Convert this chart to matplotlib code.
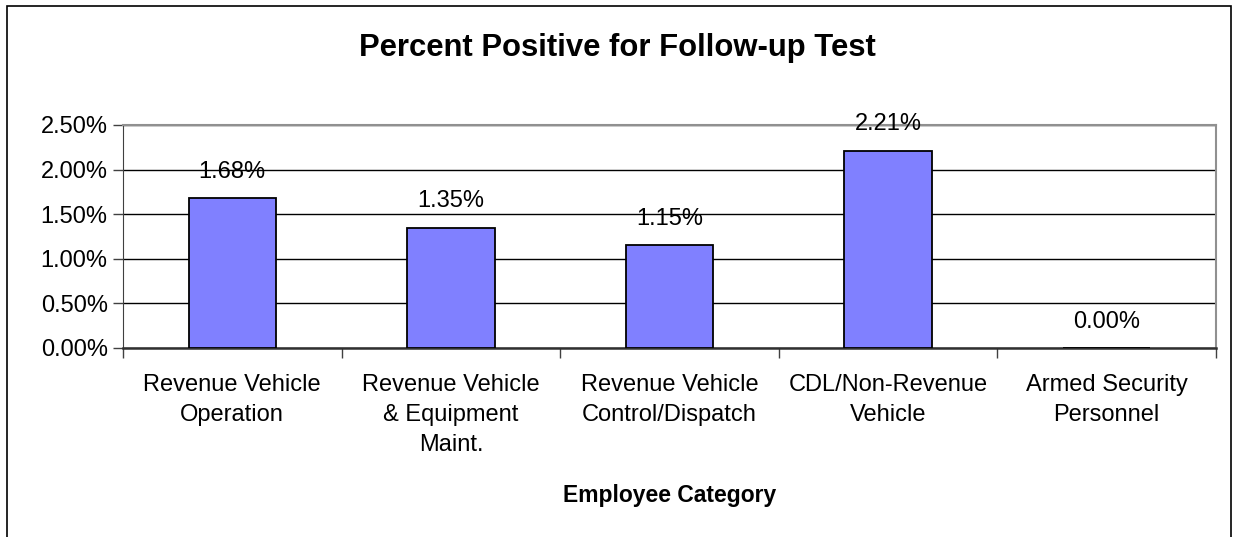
#!/usr/bin/env python3
"""Percent Positive for Follow-up Test, by employee category."""

import matplotlib.pyplot as plt
from matplotlib.patches import Rectangle
from matplotlib.ticker import FuncFormatter
import numpy as np

plt.rcParams['font.family'] = ['Liberation Sans', 'DejaVu Sans']

categories = ['Revenue Vehicle\nOperation',
              'Revenue Vehicle\n& Equipment\nMaint.',
              'Revenue Vehicle\nControl/Dispatch',
              'CDL/Non-Revenue\nVehicle',
              'Armed Security\nPersonnel']
percent_positive = [1.68, 1.35, 1.15, 2.21, 0.00]
yticks = [0.0, 0.5, 1.0, 1.5, 2.0, 2.5]

W, H = 1235, 537
fig = plt.figure(figsize=(W / 100, H / 100), dpi=100)
ax = fig.add_axes([123 / W, 1 - 348 / H, (1216 - 123) / W, (348 - 125) / H])

# outer chart frame (bottom edge runs off the picture)
fig.patches.append(Rectangle((7 / W, -0.05), (1231 - 7) / W, 1.05 - 6 / H,
                             transform=fig.transFigure, fill=False,
                             edgecolor='black', linewidth=1.2))

x = np.arange(len(categories))
ax.bar(x, percent_positive, 0.40, color='#8080FF', edgecolor='black',
       linewidth=1.3, zorder=3)

for xi, v in zip(x, percent_positive):
    ax.annotate(f'{v:.2f}%', (xi, v), xytext=(0, 19), textcoords='offset points',
                ha='center', va='center', fontsize=17, zorder=4)

ax.set_xlim(-0.5, len(categories) - 0.5)
ax.set_ylim(0, 2.5)
ax.set_yticks(yticks)
ax.yaxis.set_major_formatter(FuncFormatter(lambda v, p: f'{v:.2f}%'))
ax.grid(True, axis='y', color='black', linewidth=1, zorder=0)

ax.set_xticks(x)
ax.set_xticklabels(categories, fontsize=17, linespacing=1.48)
ax.set_xticks(np.arange(len(categories) + 1) - 0.5, minor=True)
ax.tick_params(axis='x', which='major', length=0, pad=18.5)
ax.tick_params(axis='x', which='minor', length=7, width=1, color='#404040')
ax.tick_params(axis='y', labelsize=17, length=7, width=1, color='#404040', pad=4)

for side in ['top', 'right']:
    ax.spines[side].set_color('#909090')
    ax.spines[side].set_linewidth(1.5)
ax.spines['left'].set_color('#404040')
ax.spines['bottom'].set_color('#303030')
ax.spines['bottom'].set_linewidth(1.8)

ax.set_xlabel('Employee Category', fontsize=16.5, fontweight='bold', labelpad=20)
fig.text(0.5, 1 - 56 / H, 'Percent Positive for Follow-up Test',
         ha='center', va='baseline', fontsize=22.3, fontweight='bold')

fig.savefig('out.png', dpi=100)
